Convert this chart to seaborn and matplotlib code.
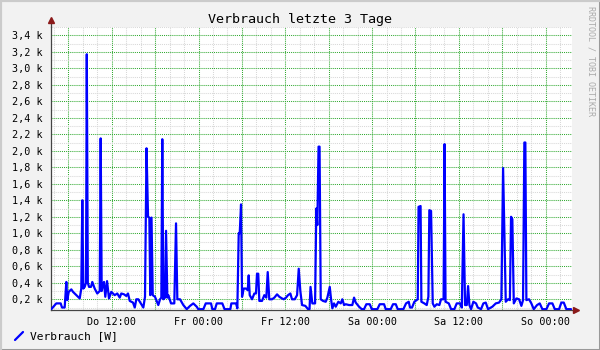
import numpy as np
import pandas as pd
import matplotlib
matplotlib.use("Agg")
import matplotlib.pyplot as plt
from matplotlib.ticker import MultipleLocator, FuncFormatter, FixedLocator
from matplotlib.lines import Line2D
from matplotlib.patches import Rectangle
import seaborn as sns

# ---- data (hours since Thursday 00:00, power in W) ----
hours = [3.64, 4.33, 4.94, 5.12, 5.49, 5.72, 5.85, 6.05, 6.41, 6.64, 7.10, 7.57, 7.79, 7.93, 8.07,
         8.26, 8.44, 8.55, 8.69, 8.86, 9.13, 9.31, 9.64, 10.00, 10.34, 10.47, 10.61, 10.72, 10.93,
         11.11, 11.35, 11.62, 11.94, 12.41, 12.77, 13.10, 13.32, 13.70, 14.01, 14.25, 14.49, 14.94,
         15.18, 15.40, 15.67, 16.15, 16.37, 16.60, 16.81, 17.02, 17.20, 17.33, 17.50, 17.67, 17.98,
         18.44, 18.68, 18.86, 18.99, 19.13, 19.37, 19.51, 19.69, 19.82, 20.20, 20.65, 20.89, 21.07,
         21.44, 21.90, 22.37, 22.83, 23.28, 23.75, 23.97, 24.67, 25.00, 25.73, 25.91, 26.28, 26.52,
         27.29, 27.60, 28.40, 28.54, 29.19, 29.37, 29.56, 29.70, 29.88, 30.02, 30.25, 30.57, 30.81,
         30.94, 31.08, 31.40, 31.72, 31.95, 32.09, 32.26, 32.41, 32.78, 33.10, 33.38, 33.57, 33.79,
         34.17, 34.49, 34.86, 35.18, 35.55, 35.79, 36.10, 36.38, 36.70, 36.93, 37.31, 37.63, 37.86,
         38.08, 38.32, 38.77, 39.15, 39.35, 39.49, 39.74, 40.12, 40.29, 40.43, 40.60, 40.74, 40.90,
         41.22, 41.59, 41.82, 42.15, 42.33, 42.51, 42.74, 42.98, 43.34, 43.67, 43.89, 44.13, 44.36,
         44.82, 45.27, 45.51, 45.74, 46.20, 46.57, 46.89, 47.21, 47.68, 47.96, 48.73, 49.06, 49.66,
         49.89, 50.58, 50.90, 51.28, 51.55, 52.33, 52.70, 53.07, 53.25, 53.53, 53.85, 54.32, 54.43,
         54.71, 54.82, 55.23, 55.56, 55.79, 55.92, 56.16, 56.39, 56.62, 56.95, 57.31, 57.54, 57.89,
         58.03, 58.16, 58.61, 58.93, 59.38, 59.71, 60.17, 60.41, 60.65, 60.86, 61.10, 61.28, 61.46,
         61.69, 62.01, 62.38, 62.62, 63.07, 63.39, 63.72, 64.04, 64.64, 65.11, 65.56, 65.88, 66.12,
         66.49, 66.81, 67.06, 67.22, 67.40, 67.60, 67.96, 68.33, 68.65, 68.88, 69.06, 69.20, 69.34,
         69.71, 70.03, 70.36, 70.82, 71.19, 71.55, 72.11, 72.48, 72.94, 73.27, 73.86, 74.18, 74.51,
         74.87, 75.52]
watts = [80, 150, 150, 100, 100, 410, 190, 290, 320, 290, 250, 210, 330, 1400, 330,
         350, 400, 3170, 400, 350, 350, 410, 330, 270, 300, 2150, 300, 350, 410,
         230, 420, 210, 290, 250, 270, 220, 270, 260, 240, 270, 180, 160,
         100, 200, 200, 130, 100, 230, 2030, 1200, 1190, 250, 1190, 250, 230,
         130, 200, 220, 2140, 200, 220, 1030, 220, 250, 150, 150, 1120, 200,
         200, 130, 80, 120, 150, 110, 80, 80, 150, 150, 80, 80, 150,
         150, 80, 80, 150, 150, 90, 1000, 1000, 1350, 230, 330, 330, 310,
         490, 250, 200, 270, 270, 510, 510, 180, 180, 250, 220, 530, 200,
         200, 220, 260, 230, 210, 200, 220, 250, 270, 200, 200, 250, 570,
         300, 130, 120, 80, 80, 350, 150, 150, 1300, 1100, 2050, 2050, 200,
         180, 170, 220, 350, 200, 90, 150, 110, 170, 150, 200, 130, 140,
         130, 130, 220, 160, 110, 80, 80, 140, 140, 80, 80, 140, 140,
         80, 80, 140, 140, 80, 80, 150, 170, 100, 100, 170, 200, 1320,
         1330, 170, 150, 130, 230, 1280, 1270, 150, 110, 140, 130, 200, 200,
         2080, 170, 150, 80, 80, 150, 150, 100, 1230, 130, 130, 360, 130,
         80, 170, 150, 100, 80, 150, 160, 80, 110, 150, 160, 200, 1790,
         170, 200, 190, 1200, 1170, 150, 210, 200, 120, 190, 2100, 2100, 190,
         200, 150, 80, 130, 150, 80, 80, 150, 150, 80, 80, 160, 160,
         80, 80]

tick_hours = [12, 24, 36, 48, 60, 72]
tick_labels = ["Do 12:00", "Fr 00:00", "Fr 12:00", "Sa 00:00", "Sa 12:00", "So 00:00"]
title = "Verbrauch letzte 3 Tage"
series_name = "Verbrauch [W]"

df = pd.DataFrame({"h": hours, "w": watts})

sns.set_style("white")
plt.rcParams["font.family"] = ["DejaVu Sans Mono"]

W, H = 600, 350
fig = plt.figure(figsize=(6, 3.5), dpi=100, facecolor="#f2f2f2")

# frame shading
fig.add_artist(Rectangle((0, 0), 1, 1, transform=fig.transFigure, fill=False,
                         edgecolor="#999999", lw=2.2, zorder=0))
fig.add_artist(Line2D([0, 0], [0, 1], transform=fig.transFigure, color="#cbcbcb", lw=2.2))
fig.add_artist(Line2D([0, 1], [1, 1], transform=fig.transFigure, color="#cbcbcb", lw=2.2))

x0, x1, yt, yb = 51, 572, 27, 310
ax = fig.add_axes([x0 / W, 1 - yb / H, (x1 - x0) / W, (yb - yt) / H])
ax.set_facecolor("#ffffff")

sns.lineplot(data=df, x="h", y="w", ax=ax, color="#0000ff", lw=1.6, zorder=5)

ax.set_xlim(3.6, 75.65)
ax.set_ylim(70, 3500)

ax.xaxis.set_major_locator(MultipleLocator(6))
ax.xaxis.set_minor_locator(MultipleLocator(2))
lab = dict(zip(tick_hours, tick_labels))
ax.xaxis.set_major_formatter(FuncFormatter(lambda v, p: lab.get(int(round(v)), "")))
ax.yaxis.set_major_locator(MultipleLocator(200))
ax.yaxis.set_minor_locator(MultipleLocator(100))
ax.yaxis.set_major_formatter(FuncFormatter(
    lambda v, p: ("%.1f k" % (v / 1000)).replace(".", ",") if v >= 150 else ""))

ax.grid(which="minor", color="#d8d8d8", lw=0.75, ls=(0, (1, 1)), zorder=1)
ax.grid(which="major", color="#33aa33", lw=0.75, ls=(0, (1, 1)), zorder=2)
ax.set_axisbelow(True)

ax.tick_params(axis="both", which="major", direction="out", length=3, width=0.8,
               color="#333333", labelsize=7.3, labelcolor="#000000")
ax.tick_params(axis="x", which="major", pad=2)
ax.tick_params(axis="y", which="major", pad=3)
ax.tick_params(axis="both", which="minor", length=0)
ax.set_xlabel("")
ax.set_ylabel("")

for s in ["top", "right"]:
    ax.spines[s].set_visible(False)
for s in ["left", "bottom"]:
    ax.spines[s].set_color("#444444")
    ax.spines[s].set_linewidth(0.9)

# axis extensions and arrows
ext_y = 7 / (yb - yt)
ext_x = 4 / (x1 - x0)
ax.plot([0, 0], [1, 1 + ext_y], transform=ax.transAxes, color="#444444", lw=0.9, clip_on=False)
ax.plot([1, 1 + ext_x], [0, 0], transform=ax.transAxes, color="#444444", lw=0.9, clip_on=False)
ax.plot([0], [1 + ext_y], transform=ax.transAxes, marker="^", ms=5, color="#8b1a1a",
        clip_on=False, zorder=10)
ax.plot([1 + ext_x], [0], transform=ax.transAxes, marker=">", ms=5, color="#8b1a1a",
        clip_on=False, zorder=10)

# title
fig.text(0.5, 1 - 19 / H, title, ha="center", va="center", fontsize=9.6, color="#000000")

# legend
fig.add_artist(Line2D([15 / W, 23 / W], [1 - 340 / H, 1 - 332 / H], transform=fig.transFigure,
                      color="#0000ff", lw=1.6))
fig.text(30 / W, 1 - 336 / H, series_name, ha="left", va="center", fontsize=8.1, color="#000000")

# watermark
fig.text(591 / W, 1 - 61 / H, "RRDTOOL / TOBI OETIKER", rotation=270, ha="center", va="center",
         fontsize=6.0, color="#aaaaaa")

fig.savefig("out.png", dpi=100, facecolor=fig.get_facecolor())
